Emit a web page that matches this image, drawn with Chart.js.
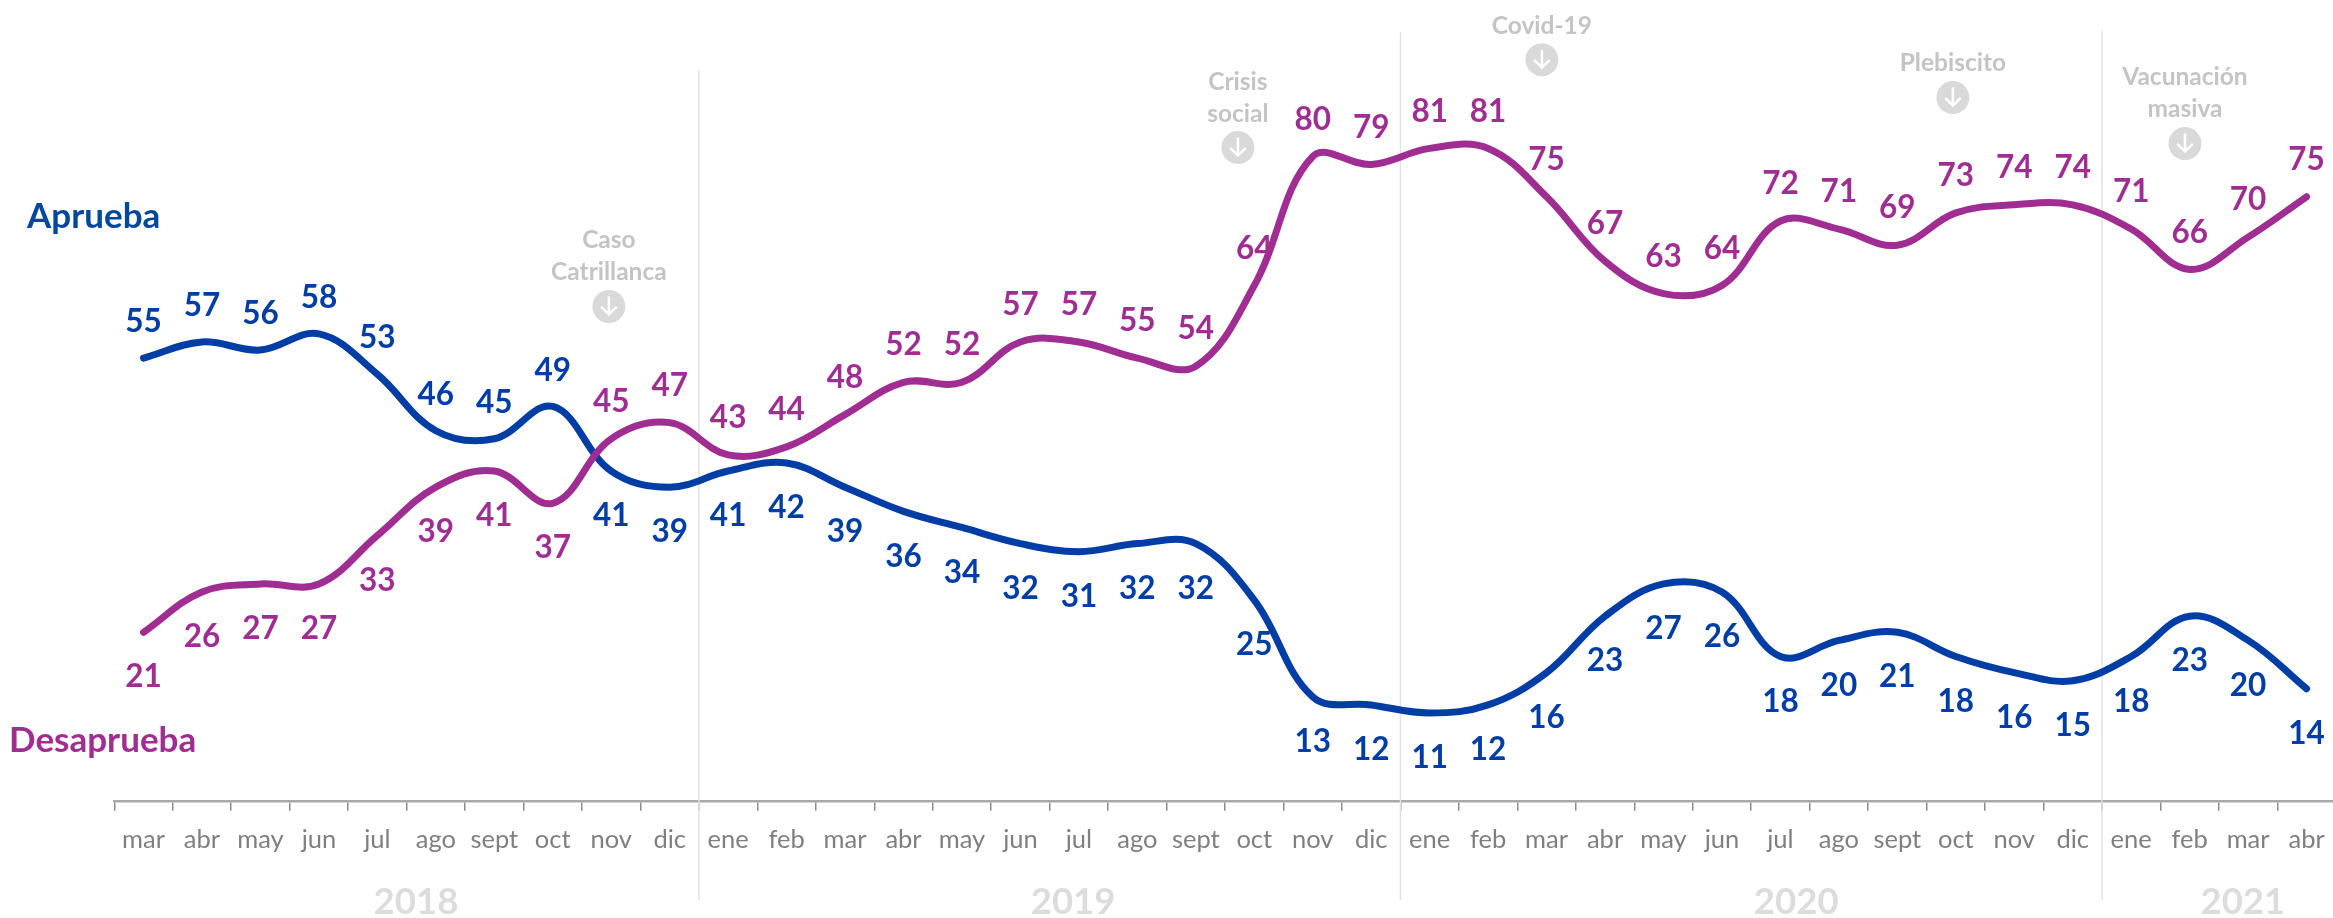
<!DOCTYPE html>
<html lang="es">
<head>
<meta charset="utf-8">
<title>Aprueba / Desaprueba</title>
<script src="https://cdn.jsdelivr.net/npm/chart.js@4"></script>
<style>
  html, body { margin: 0; padding: 0; background: #fff; overflow: hidden; }
  #wrap { width: 2333px; height: 918px; overflow: hidden; }
  canvas { display: block; }
</style>
</head>
<body>
<div id="wrap"><canvas id="encuesta" width="2336" height="918"></canvas></div>
<script>
const months = ["mar","abr","may","jun","jul","ago","sept","oct","nov","dic",
  "ene","feb","mar","abr","may","jun","jul","ago","sept","oct","nov","dic",
  "ene","feb","mar","abr","may","jun","jul","ago","sept","oct","nov","dic",
  "ene","feb","mar","abr"];
const aprueba = [55,57,56,58,53,46,45,49,41,39,
  41,42,39,36,34,32,31,32,32,25,13,12,
  11,12,16,23,27,26,18,20,21,18,16,15,
  18,23,20,14];
const desaprueba = [21,26,27,27,33,39,41,37,45,47,
  43,44,48,52,52,57,57,55,54,64,80,79,
  81,81,75,67,63,64,72,71,69,73,74,74,
  71,66,70,75];
const years = ["2018","2019","2020","2021"];
const yearSpots = [4.66,15.9,28.27,35.91];   // in category units
const yearBreaks = [9.5,21.5,33.5];
const breakTops = [90.7,95.4,95.6];          // value where each separator starts
const eventNames = [["Caso","Catrillanca"],["Crisis","social"],["Covid-19"],["Plebiscito"],["Vacunación","masiva"]];
const eventSpots = [7.96,18.72,23.92,30.95,34.92];
const eventLevels = [61.4,81.1,92,87.3,81.6];

const BLUE = "#003DA5";
const PURPLE = "#A02D91";
const FONT = "Lato, 'Noto Sans', sans-serif";

// value labels, the names next to the lines, years, separators, events
const decorations = {
  id: "decorations",
  beforeDatasetsDraw(chart) {
    const { ctx, scales: { x, y } } = chart;
    ctx.save();
    ctx.strokeStyle = "#E3E3E3";
    ctx.lineWidth = 1.5;
    yearBreaks.forEach((b, i) => {
      ctx.beginPath();
      ctx.moveTo(x.getPixelForValue(b), y.getPixelForValue(breakTops[i]));
      ctx.lineTo(x.getPixelForValue(b), 900);
      ctx.stroke();
    });
    ctx.restore();
  },
  afterDatasetsDraw(chart) {
    const { ctx, scales: { x, y } } = chart;
    ctx.save();
    ctx.textAlign = "center";
    ctx.textBaseline = "middle";

    // numbers: the lines swap places after oct 2018
    ctx.font = "bold 31.5px " + FONT;
    aprueba.forEach((v, i) => {
      ctx.fillStyle = BLUE;
      ctx.fillText(v, x.getPixelForValue(i), y.getPixelForValue(v) + (i < 8 ? -36 : 45));
    });
    desaprueba.forEach((v, i) => {
      ctx.fillStyle = PURPLE;
      ctx.fillText(v, x.getPixelForValue(i), y.getPixelForValue(v) + (i < 8 ? 45 : -37));
    });

    // years
    ctx.font = "bold 36.5px " + FONT;
    ctx.fillStyle = "#DCDCDC";
    years.forEach((t, i) => ctx.fillText(t, x.getPixelForValue(yearSpots[i]), 902));

    // events
    eventNames.forEach((lines, i) => {
      const ex = x.getPixelForValue(eventSpots[i]);
      const ey = y.getPixelForValue(eventLevels[i]);
      ctx.font = "bold 24.5px " + FONT;
      ctx.fillStyle = "#C4C4C4";
      lines.forEach((t, k) => ctx.fillText(t, ex, ey - 34 - (lines.length - 1 - k) * 32));
      ctx.fillStyle = "#D9D9D9";
      ctx.beginPath();
      ctx.arc(ex, ey, 16.5, 0, Math.PI * 2);
      ctx.fill();
      ctx.strokeStyle = "#fff";
      ctx.lineWidth = 2.5;
      ctx.lineCap = "round";
      ctx.beginPath();
      ctx.moveTo(ex, ey - 9);
      ctx.lineTo(ex, ey + 8);
      ctx.moveTo(ex - 7, ey + 1);
      ctx.lineTo(ex, ey + 8);
      ctx.lineTo(ex + 7, ey + 1);
      ctx.stroke();
    });

    // series names
    ctx.textAlign = "left";
    ctx.font = "bold 35px " + FONT;
    ctx.fillStyle = "#00479D";
    ctx.fillText(chart.data.datasets[0].label, 27, 217);
    ctx.fillStyle = PURPLE;
    ctx.fillText(chart.data.datasets[1].label, 9, 741);
    ctx.restore();
  }
};

new Chart(document.getElementById("encuesta"), {
  type: "line",
  data: {
    labels: months,
    datasets: [
      { label: "Aprueba", data: aprueba, borderColor: BLUE, order: 2 },
      { label: "Desaprueba", data: desaprueba, borderColor: PURPLE, order: 1 }
    ]
  },
  options: {
    responsive: false,
    animation: false,
    devicePixelRatio: 1,
    layout: { padding: { left: 114.3, right: 0.2, top: 0, bottom: 0 } },
    elements: {
      point: { radius: 0 },
      line: { borderWidth: 7, tension: 0.38, borderCapStyle: "round", borderJoinStyle: "round" }
    },
    plugins: { legend: { display: false }, tooltip: { enabled: false } },
    scales: {
      y: { display: false, min: 0, max: 99.4 },
      x: {
        offset: true,
        afterFit(scale) {
          scale.height = 116.3;
          // the end labels would otherwise push the plot in from the right
          scale.paddingLeft = 0;
          scale.paddingRight = 0;
        },
        border: { color: "#A9A9A9", width: 2.5 },
        grid: { offset: true, drawOnChartArea: false, color: "#8C8C8C", lineWidth: 1.5, tickLength: 9 },
        ticks: {
          color: "#7F7F7F",
          autoSkip: false,
          maxRotation: 0,
          padding: 14,
          font: { family: FONT, size: 25.5 }
        }
      }
    }
  },
  plugins: [decorations]
});
</script>
</body>
</html>
